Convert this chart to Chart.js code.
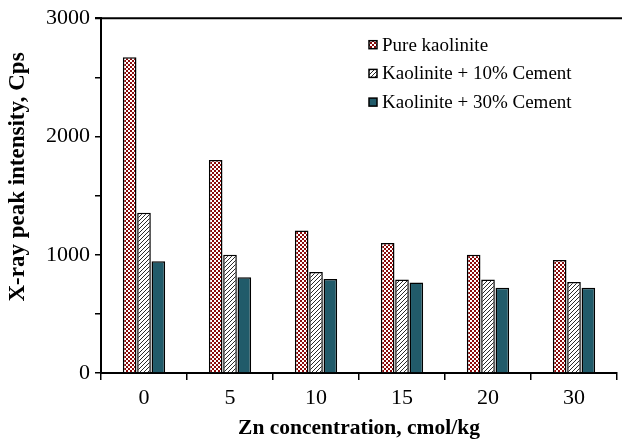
<!DOCTYPE html>
<html>
<head>
<meta charset="utf-8">
<script src="https://cdn.jsdelivr.net/npm/chart.js@4/dist/chart.umd.min.js"></script>
<style>
html, body { margin: 0; padding: 0; background: #fff; }
#wrap { width: 622px; height: 442px; }
</style>
</head>
<body>
<div id="wrap"><canvas id="barChart" width="622" height="442"></canvas></div>
<script>
var labels = ['0', '5', '10', '15', '20', '30'];
var pureKaolinite = [2670, 1800, 1205, 1100, 1000, 955];
var cement10 = [1355, 1000, 855, 790, 790, 770];
var cement30 = [945, 810, 795, 765, 720, 720];
var seriesNames = ['Pure kaolinite', 'Kaolinite + 10% Cement', 'Kaolinite + 30% Cement'];
var yTitle = 'X-ray peak intensity, Cps';
var xTitle = 'Zn concentration, cmol/kg';
var yMax = 3000;
var yStep = 500;

var serif = "'Liberation Serif', 'Times New Roman', serif";

// checker pattern (red / white)
function makeChecker() {
    var c = document.createElement('canvas');
    c.width = 4; c.height = 4;
    var g = c.getContext('2d');
    g.fillStyle = '#ffffff';
    g.fillRect(0, 0, 4, 4);
    g.fillStyle = '#8b0a0a';
    g.fillRect(0, 0, 2, 2);
    g.fillRect(2, 2, 2, 2);
    return g.createPattern(c, 'repeat');
}

// diagonal hatch "/"
function makeHatch() {
    var s = 4;
    var c = document.createElement('canvas');
    c.width = s; c.height = s;
    var g = c.getContext('2d');
    g.fillStyle = '#ffffff';
    g.fillRect(0, 0, s, s);
    g.strokeStyle = '#2a2a2a';
    g.lineWidth = 1;
    g.beginPath();
    g.moveTo(0, s); g.lineTo(s, 0);
    g.moveTo(-1, 1); g.lineTo(1, -1);
    g.moveTo(s - 1, s + 1); g.lineTo(s + 1, s - 1);
    g.stroke();
    return g.createPattern(c, 'repeat');
}

var fills = [makeChecker(), makeHatch(), '#215b6a'];

// top frame line + rotated y title (centred a bit above the axis middle, as in the original)
var frameBits = {
    id: 'frameBits',
    afterDraw: function(chart) {
        var ctx = chart.ctx, a = chart.chartArea;
        ctx.save();
        ctx.strokeStyle = '#000';
        ctx.lineWidth = 2;
        ctx.beginPath();
        ctx.moveTo(a.left - 6, a.top);
        ctx.lineTo(chart.width, a.top);
        ctx.stroke();

        ctx.translate(18.5, 177);
        ctx.rotate(-Math.PI / 2);
        ctx.fillStyle = '#000';
        ctx.font = 'bold 23px ' + serif;
        ctx.textAlign = 'center';
        ctx.textBaseline = 'middle';
        ctx.fillText(yTitle, 0, 0);
        ctx.restore();
    }
};

var boxLegend = {
    id: 'boxLegend',
    afterDraw: function(chart) {
        var ctx = chart.ctx, a = chart.chartArea;
        var x = a.left + 268, y0 = a.top + 26.5, gap = 28.7;
        ctx.save();
        ctx.font = '19px ' + serif;
        ctx.textBaseline = 'middle';
        chart.data.datasets.forEach(function(ds, i) {
            var y = y0 + i * gap;
            ctx.fillStyle = ds.backgroundColor;
            ctx.fillRect(x, y - 4, 8, 8);
            ctx.strokeStyle = '#000';
            ctx.lineWidth = 1.5;
            ctx.strokeRect(x, y - 4, 8, 8);
            ctx.fillStyle = '#000';
            ctx.fillText(ds.label, x + 13, y + 1);
        });
        ctx.restore();
    }
};

function ds(label, data, fill) {
    return {
        label: label,
        data: data,
        backgroundColor: fill,
        borderColor: '#000',
        borderWidth: 1.5,
        categoryPercentage: 0.5,
        barPercentage: 0.95
    };
}

var ctx = document.getElementById('barChart').getContext('2d');
var myChart = new Chart(ctx, {
    type: 'bar',
    data: {
        labels: labels,
        datasets: [
            ds(seriesNames[0], pureKaolinite, fills[0]),
            ds(seriesNames[1], cement10, fills[1]),
            ds(seriesNames[2], cement30, fills[2])
        ]
    },
    options: {
        responsive: false,
        animation: false,
        devicePixelRatio: 1,
        layout: { padding: { top: 17, right: 5, left: 0, bottom: 0 } },
        plugins: {
            legend: { display: false },
            tooltip: { enabled: false }
        },
        scales: {
            x: {
                grid: { drawOnChartArea: false, offset: true, color: '#000', tickLength: 7, lineWidth: 1.5 },
                border: { display: true, color: '#000', width: 2 },
                ticks: { color: '#000', font: { family: serif, size: 22 }, padding: 5 },
                title: {
                    display: true,
                    text: xTitle,
                    color: '#000',
                    font: { family: serif, size: 21.5, weight: 'bold' },
                    padding: { top: 0, bottom: 1 }
                },
                afterFit: function(scale) { scale.height = 69; }
            },
            y: {
                min: 0,
                max: yMax,
                grid: { drawOnChartArea: false, color: '#000', tickLength: 6, lineWidth: 1.5 },
                border: { display: true, color: '#000', width: 2 },
                ticks: {
                    stepSize: yStep,
                    color: '#000',
                    font: { family: serif, size: 22 },
                    padding: 5,
                    callback: function(v) { return v % 1000 === 0 ? v : ''; }
                },
                afterFit: function(scale) { scale.width = 101; }
            }
        }
    },
    plugins: [frameBits, boxLegend]
});
</script>
</body>
</html>
